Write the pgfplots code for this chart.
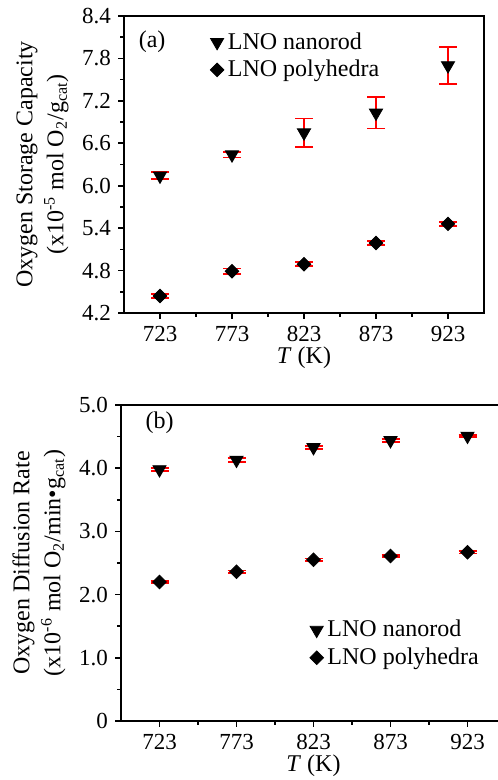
\documentclass[border=0pt]{standalone}
\usepackage{fontspec}
\setmainfont{Liberation Serif}
\usepackage{pgfplots}
\pgfplotsset{compat=1.18}
\begin{document}
\begin{tikzpicture}
\pgfplotsset{
  lno/.style={
    scale only axis,
    font=\fontsize{11.5}{13}\selectfont,
    /pgf/number format/assume math mode=true,
    xmin=698, xmax=948,
    xtick={723,773,823,873,923},
    minor x tick num=1,
    minor y tick num=1,
    tick align=outside,
    xtick pos=bottom, ytick pos=left,
    major tick length=3pt, minor tick length=2pt,
    tick style={black, line width=0.8pt},
    xlabel={\textit{T} (K)},
    xlabel style={font=\fontsize{12}{13}\selectfont, yshift=4pt},
    ylabel style={align=center, font=\fontsize{12}{15.5}\selectfont},
    legend cell align=left,
    legend style={draw=none, fill=none, font=\fontsize{12}{14}\selectfont},
  },
  rod/.style={only marks, mark=triangle*, mark size=3.8pt,
    mark options={rotate=180, fill=black, draw=black},
    error bars/.cd, y dir=both, y explicit,
    error bar style={red, line width=0.9pt},
    error mark options={rotate=90, red, mark size=4.5pt, line width=0.9pt}},
  poly/.style={only marks, mark=square*, mark size=2.4pt,
    mark options={rotate=45, fill=black, draw=black},
    error bars/.cd, y dir=both, y explicit,
    error bar style={red, line width=0.9pt},
    error mark options={rotate=90, red, mark size=4.5pt, line width=0.9pt}},
}

% (a) oxygen storage capacity
\begin{axis}[lno,
    at={(62pt,233.5pt)}, anchor=south west,
    width=180pt, height=148.5pt,
    axis line style={line width=1pt},
    ymin=4.2, ymax=8.4,
    ytick={4.2,4.8,5.4,6.0,6.6,7.2,7.8,8.4},
    yticklabel style={/pgf/number format/.cd, fixed, fixed zerofill, precision=1},
    ylabel={Oxygen Storage Capacity\\(x10\textsuperscript{-5} mol O\textsubscript{2}/g\textsubscript{cat})},
    legend style={at={(rel axis cs:0.222,0.865)}, anchor=west},
]
\addplot[rod] coordinates {
  (723,6.14) +- (0,0.05)
  (773,6.44) +- (0,0.04)
  (823,6.75) +- (0,0.20)
  (873,7.03) +- (0,0.22)
  (923,7.70) +- (0,0.26)
};
\addlegendentry{LNO nanorod}
\addplot[poly] coordinates {
  (723,4.44) +- (0,0.03)
  (773,4.79) +- (0,0.04)
  (823,4.89) +- (0,0.03)
  (873,5.19) +- (0,0.03)
  (923,5.46) +- (0,0.03)
};
\addlegendentry{LNO polyhedra}
\node[font=\fontsize{12}{13}\selectfont] at (rel axis cs:0.078,0.912) {(a)};
\end{axis}

% (b) oxygen diffusion rate
\begin{axis}[lno,
    at={(60.5pt,29.5pt)}, anchor=south west,
    width=192.5pt, height=158pt,
    axis line style={line width=1.4pt},
    ymin=0, ymax=5,
    ytick={0,1,2,3,4,5},
    yticklabels={0,1.0,2.0,3.0,4.0,5.0},
    ylabel={Oxygen Diffusion Rate\\(x10\textsuperscript{-6} mol O\textsubscript{2}/min\textbullet g\textsubscript{cat})},
    legend style={at={(rel axis cs:0.474,0.244)}, anchor=west},
]
\addplot[rod] coordinates {
  (723,3.98) +- (0,0.02)
  (773,4.13) +- (0,0.03)
  (823,4.33) +- (0,0.02)
  (873,4.44) +- (0,0.02)
  (923,4.51) +- (0,0.02)
};
\addlegendentry{LNO nanorod}
\addplot[poly] coordinates {
  (723,2.20) +- (0,0.02)
  (773,2.36) +- (0,0.02)
  (823,2.55) +- (0,0.02)
  (873,2.61) +- (0,0.02)
  (923,2.67) +- (0,0.02)
};
\addlegendentry{LNO polyhedra}
\node[font=\fontsize{12}{13}\selectfont] at (rel axis cs:0.10,0.943) {(b)};
\end{axis}

\pgfresetboundingbox
\useasboundingbox (0,0) rectangle (248.5pt,390pt);
\end{tikzpicture}
\end{document}
